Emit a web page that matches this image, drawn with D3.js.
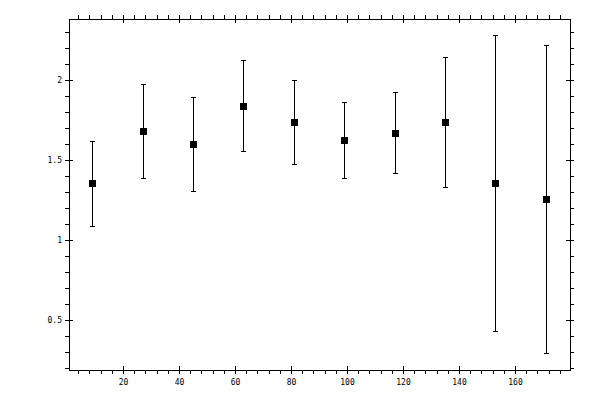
<!DOCTYPE html>
<html>
<head>
<meta charset="utf-8">
<script src="https://cdn.jsdelivr.net/npm/d3@7"></script>
<style>
  body { margin: 0; background: #fff; }
  svg text { font-family: "DejaVu Sans Mono", monospace; font-size: 8px; fill: #000; }
</style>
</head>
<body>
<svg></svg>
<script>

// values
var xVals = [9, 27, 45, 63, 81, 99, 117, 135, 153, 171];
var means = [1.356, 1.681, 1.600, 1.838, 1.738, 1.625, 1.669, 1.738, 1.356, 1.256];
var upper = [1.619, 1.973, 1.891, 2.125, 2.000, 1.863, 1.925, 2.141, 2.281, 2.219];
var lower = [1.088, 1.388, 1.306, 1.556, 1.475, 1.388, 1.419, 1.331, 0.431, 0.296];

var xMajor = [20, 40, 60, 80, 100, 120, 140, 160];
var yMajor = [0.5, 1, 1.5, 2];

var w = 600, h = 400;
// note: "top" is taken by window.top, so the frame edges get their own names
var plotL = 69, plotR = 570, plotT = 19, plotB = 370;

var svg = d3.select("svg")
    .attr("width", w)
    .attr("height", h)
    .attr("shape-rendering", "crispEdges")

var x = d3.scaleLinear().domain([0.714, 179.643]).range([plotL, plotR]);
var y = d3.scaleLinear().domain([0.1875, 2.381]).range([plotB, plotT]);

var xMinor = d3.range(4, 180, 4).filter(function(v){ return v % 20 != 0 });
var yMinor = d3.range(2, 24).map(function(v){ return v / 10 }).filter(function(v){ return Math.round(v*10) % 5 != 0 });

// frame
svg.append("rect")
    .attr("x", plotL + 0.5).attr("y", plotT + 0.5)
    .attr("width", plotR - plotL).attr("height", plotB - plotT)
    .attr("fill", "none").attr("stroke", "#000")

function fmt(v){ return String(v) }

// minor ticks, outward only
svg.append("g").attr("transform", "translate(0," + plotB + ")")
    .call(d3.axisBottom(x).tickValues(xMinor).tickSize(4).tickFormat(""))
svg.append("g").attr("transform", "translate(0," + plotT + ")")
    .call(d3.axisTop(x).tickValues(xMinor).tickSize(4).tickFormat(""))
svg.append("g").attr("transform", "translate(" + plotL + ",0)")
    .call(d3.axisLeft(y).tickValues(yMinor).tickSize(4).tickFormat(""))
svg.append("g").attr("transform", "translate(" + plotR + ",0)")
    .call(d3.axisRight(y).tickValues(yMinor).tickSize(4).tickFormat(""))

// major ticks cross the frame
var gb = svg.append("g").attr("transform", "translate(0," + plotB + ")")
    .call(d3.axisBottom(x).tickValues(xMajor).tickSize(4).tickPadding(5).tickFormat(fmt))
gb.selectAll(".tick line").attr("y1", -4)

var gt = svg.append("g").attr("transform", "translate(0," + plotT + ")")
    .call(d3.axisTop(x).tickValues(xMajor).tickSize(4).tickFormat(""))
gt.selectAll(".tick line").attr("y1", 4)

var gl = svg.append("g").attr("transform", "translate(" + plotL + ",0)")
    .call(d3.axisLeft(y).tickValues(yMajor).tickSize(4).tickPadding(3).tickFormat(fmt))
gl.selectAll(".tick line").attr("x1", 4)

var gr = svg.append("g").attr("transform", "translate(" + plotR + ",0)")
    .call(d3.axisRight(y).tickValues(yMajor).tickSize(4).tickFormat(""))
gr.selectAll(".tick line").attr("x1", -4)

svg.selectAll(".domain").remove()
svg.selectAll(".tick text").attr("font-family", null).attr("font-size", null)

// error bars
var px = function(d){ return Math.round(x(d)) }

var bars = svg.append("g").selectAll("g")
    .data(xVals)
    .enter()
    .append("g")

bars.append("line")
    .attr("x1", function(d){ return px(d) + 0.5 })
    .attr("x2", function(d){ return px(d) + 0.5 })
    .attr("y1", function(d,i){ return y(upper[i]) })
    .attr("y2", function(d,i){ return y(lower[i]) })
    .attr("stroke", "#000")

bars.append("line")
    .attr("x1", function(d){ return px(d) - 2 })
    .attr("x2", function(d){ return px(d) + 3 })
    .attr("y1", function(d,i){ return Math.round(y(upper[i])) + 0.5 })
    .attr("y2", function(d,i){ return Math.round(y(upper[i])) + 0.5 })
    .attr("stroke", "#000")

bars.append("line")
    .attr("x1", function(d){ return px(d) - 2 })
    .attr("x2", function(d){ return px(d) + 3 })
    .attr("y1", function(d,i){ return Math.round(y(lower[i])) + 0.5 })
    .attr("y2", function(d,i){ return Math.round(y(lower[i])) + 0.5 })
    .attr("stroke", "#000")

bars.append("rect")
    .attr("x", function(d){ return px(d) - 3 })
    .attr("y", function(d,i){ return Math.round(y(means[i])) - 3 })
    .attr("width", 7)
    .attr("height", 7)
    .attr("fill", "#000")

</script>
</body>
</html>
